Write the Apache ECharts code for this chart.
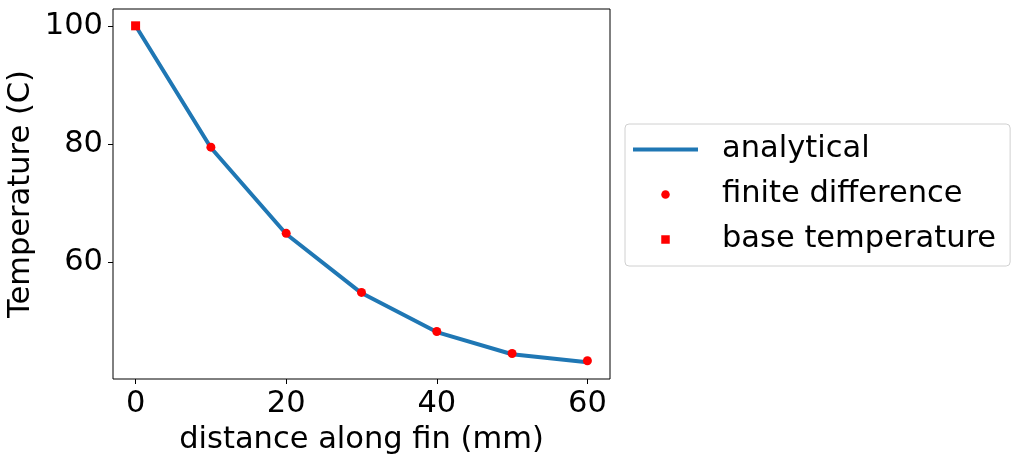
<!DOCTYPE html>
<html>
<head>
<meta charset="utf-8">
<script src="https://cdn.jsdelivr.net/npm/echarts@6/dist/echarts.min.js"></script>
<style>
  html, body { margin: 0; padding: 0; background: #fff; }
  #chart { width: 1018px; height: 462px; }
</style>
</head>
<body>
<div id="chart"></div>
<script>
// distance along fin (mm) and temperatures
const distance = [0, 10, 20, 30, 40, 50, 60];
const analytical = [100, 79.35, 64.75, 54.75, 48.15, 44.4, 43.05];
const fdDistance = [10, 20, 30, 40, 50, 60];
const finiteDiff = [79.45, 64.86, 54.86, 48.25, 44.52, 43.3];
const baseDistance = [0];
const baseTemp = [100];
const xTicks = [0, 20, 40, 60];
const yTicks = [60, 80, 100];

const font = "DejaVu Sans";
const fs = 30.5;

// matplotlib-like 5% margins
const allY = analytical.concat(finiteDiff, baseTemp);
const yLo = Math.min(...allY), yHi = Math.max(...allY);
const yPad = (yHi - yLo) * 0.05;
const xPad = (Math.max(...distance) - Math.min(...distance)) * 0.05;

const zip = (xs, ys) => xs.map((x, i) => [x, ys[i]]);

const chart = echarts.init(document.getElementById("chart"));
chart.setOption({
  animation: false,
  textStyle: { fontFamily: font },
  grid: {
    left: 113, right: 408, top: 9, bottom: 83,
    show: true, borderColor: "#000", borderWidth: 1
  },
  legend: {
    left: 625, top: 124,
    orient: "vertical",
    padding: [8, 14, 9, 8],
    itemWidth: 65, itemHeight: 8.5, itemGap: 10,
    borderColor: "#d0d0d0", borderWidth: 1, borderRadius: 4,
    textStyle: { fontFamily: font, fontSize: fs, color: "#000", lineHeight: 35, padding: [0, 0, 0, 19] },
    data: [
      { name: "analytical", icon: "path://M0,0 L65,0 L65,4 L0,4 Z" },
      { name: "finite difference", icon: "circle" },
      { name: "base temperature", icon: "path://M0,0 L10,0 L10,10 L0,10 Z" }
    ]
  },
  xAxis: {
    type: "value",
    min: Math.min(...distance) - xPad,
    max: Math.max(...distance) + xPad,
    name: "distance along fin (mm)",
    nameLocation: "middle",
    nameGap: 46,
    nameTextStyle: { fontFamily: font, fontSize: fs, color: "#000" },
    splitLine: { show: false },
    axisLine: { show: false, onZero: false },
    axisTick: { show: true, length: 5, lineStyle: { color: "#000" }, customValues: xTicks },
    axisLabel: { fontFamily: font, fontSize: fs, color: "#000", margin: 10, customValues: xTicks }
  },
  yAxis: {
    type: "value",
    min: yLo - yPad,
    max: yHi + yPad,
    name: "Temperature (C)",
    nameLocation: "middle",
    nameGap: 76,
    nameTextStyle: { fontFamily: font, fontSize: fs, color: "#000" },
    splitLine: { show: false },
    axisLine: { show: false, onZero: false },
    axisTick: { show: true, length: 5, lineStyle: { color: "#000" }, customValues: yTicks },
    axisLabel: { fontFamily: font, fontSize: fs, color: "#000", margin: 10, customValues: yTicks }
  },
  series: [
    {
      name: "analytical",
      type: "line",
      data: zip(distance, analytical),
      showSymbol: false,
      color: "#1f77b4",
      lineStyle: { width: 4, color: "#1f77b4" },
      z: 1
    },
    {
      name: "finite difference",
      type: "scatter",
      data: zip(fdDistance, finiteDiff),
      symbol: "circle",
      symbolSize: 9,
      itemStyle: { color: "#ff0000", opacity: 1 },
      z: 2
    },
    {
      name: "base temperature",
      type: "scatter",
      data: zip(baseDistance, baseTemp),
      symbol: "rect",
      symbolSize: 9,
      itemStyle: { color: "#ff0000", opacity: 1 },
      z: 3
    }
  ]
});
</script>
</body>
</html>
